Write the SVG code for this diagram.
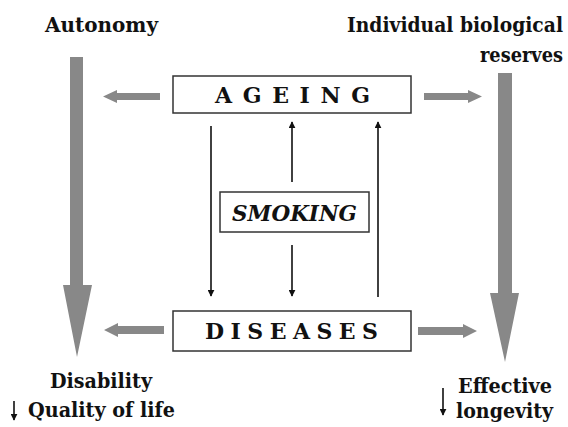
<svg xmlns="http://www.w3.org/2000/svg" width="568" height="427" viewBox="0 0 568 427">
<defs>
<style>
.t{font-family:"DejaVu Serif","Liberation Serif",serif;font-weight:bold;fill:#111}
.box{fill:#fff;stroke:#333;stroke-width:1.5}
.g{fill:#888}
.thin{stroke:#111;stroke-width:1.6;fill:none}
</style>
<marker id="ah" viewBox="0 0 10 10" refX="9" refY="5" markerWidth="7" markerHeight="7" markerUnits="userSpaceOnUse" orient="auto"><path d="M0,0 L10,5 L0,10 z" fill="#111"/></marker>
</defs>
<rect width="568" height="427" fill="#fff"/>

<g id="labels">
<text class="t" x="45" y="32" font-size="20.5" textLength="113" lengthAdjust="spacingAndGlyphs">Autonomy</text>
<text class="t" x="347" y="32" font-size="20.5" textLength="216" lengthAdjust="spacingAndGlyphs">Individual biological</text>
<text class="t" x="480" y="62" font-size="20.5" textLength="83" lengthAdjust="spacingAndGlyphs">reserves</text>
<text class="t" x="50" y="388" font-size="20.5" textLength="102" lengthAdjust="spacingAndGlyphs">Disability</text>
<text class="t" x="28" y="417" font-size="20.5" textLength="147" lengthAdjust="spacingAndGlyphs">Quality of life</text>
<text class="t" x="458" y="393" font-size="20.5" textLength="94" lengthAdjust="spacingAndGlyphs">Effective</text>
<text class="t" x="456" y="418" font-size="20.5" textLength="97" lengthAdjust="spacingAndGlyphs">longevity</text>
</g>

<g id="ageing">
<rect class="box" x="173" y="76" width="238" height="37"/>
<text class="t" x="215" y="103" font-size="22" textLength="155" lengthAdjust="spacing">AGEING</text>
</g>
<g id="diseases">
<rect class="box" x="173" y="311" width="238" height="40"/>
<text class="t" x="205" y="339" font-size="22" textLength="173" lengthAdjust="spacing">DISEASES</text>
</g>
<g id="smoking">
<rect class="box" x="220" y="192" width="149" height="40"/>
<text class="t" x="232" y="221" font-size="23" font-style="italic" textLength="125" lengthAdjust="spacingAndGlyphs">SMOKING</text>
</g>

<g id="connectors">
<path class="g" d="M70,57 H83 V285 H92 L77,357 L63,285 H70 Z"/>
<path class="g" d="M498,73 H512 V293 H519 L505,362 L490,293 H498 Z"/>
<path class="g" d="M160,93 V100 H117 V103 L103,96.5 L117,90 V93 Z"/>
<path class="g" d="M424,93 V100 H468 V103 L482,96.5 L468,90 V93 Z"/>
<path class="g" d="M164,326 V334 H118 V337 L104,330 L118,323 V326 Z"/>
<path class="g" d="M418,327 V335 H463 V338 L477,331 L463,324 V327 Z"/>
<line class="thin" x1="211" y1="126" x2="211" y2="296" marker-end="url(#ah)"/>
<line class="thin" x1="292" y1="182" x2="292" y2="122" marker-end="url(#ah)"/>
<line class="thin" x1="292" y1="245" x2="292" y2="296" marker-end="url(#ah)"/>
<line class="thin" x1="378" y1="297" x2="378" y2="122" marker-end="url(#ah)"/>
<line class="thin" x1="14" y1="401" x2="14" y2="420" marker-end="url(#ah)"/>
<line class="thin" x1="443" y1="388" x2="443" y2="415" marker-end="url(#ah)"/>
</g>
</svg>
